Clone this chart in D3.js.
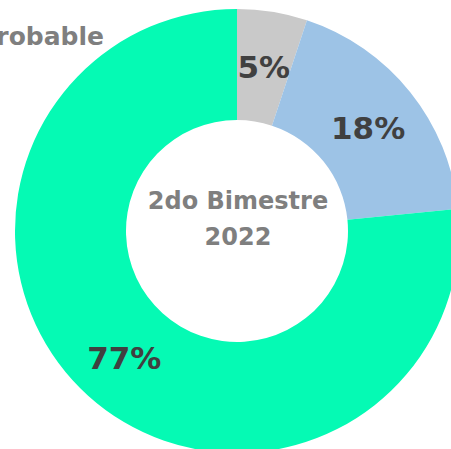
<!DOCTYPE html>
<html>
<head>
<meta charset="utf-8">
<script src="https://cdn.jsdelivr.net/npm/d3@7"></script>
<style>
  body { margin: 0; background: #fff; }
  text { font-family: "DejaVu Sans", sans-serif; font-weight: 700; }
</style>
</head>
<body>
<div id="chart"></div>
<script>
// data (share of each category, clockwise from the top)
const categories = ["Improbable", "Posible", "Probable"];
const values = [5.1, 18.3, 76.6];
const colors = ["#c9c9c9", "#9dc3e6", "#05fab4"];
const centerTitle = ["2do Bimestre", "2022"];

const width = 451, height = 449;
const cx = 237, cy = 231;
const outerR = 222, innerR = 111;

const svg = d3.select("#chart")
  .append("svg")
  .attr("width", width)
  .attr("height", height);

const g = svg.append("g")
  .attr("transform", "translate(" + cx + "," + cy + ")");

const pie = d3.pie().sort(null).value(d => d.value);
const arcs = pie(categories.map((c, i) => ({ name: c, value: values[i], color: colors[i] })));
const total = d3.sum(values);

const arc = d3.arc().innerRadius(innerR).outerRadius(outerR);
const labelArc = d3.arc().innerRadius(168).outerRadius(168);

g.selectAll("path")
  .data(arcs)
  .enter().append("path")
  .attr("d", arc)
  .attr("fill", d => d.data.color);

// percent labels inside the slices
g.selectAll(".pct")
  .data(arcs)
  .enter().append("text")
  .attr("class", "pct")
  .attr("transform", d => "translate(" + labelArc.centroid(d) + ")")
  .attr("text-anchor", "middle")
  .attr("dy", "0.42em")
  .attr("fill", "#404040")
  .style("font-size", "31px")
  .text(d => Math.round(d.data.value / total * 100) + "%");

// centre title
g.selectAll(".title")
  .data(centerTitle)
  .enter().append("text")
  .attr("class", "title")
  .attr("text-anchor", "middle")
  .attr("x", 1)
  .attr("y", (d, i) => -22 + i * 36)
  .attr("fill", "#7f7f7f")
  .style("font-size", "24px")
  .text(d => d);

// category label of the big slice (partly outside the frame)
svg.append("text")
  .attr("x", 104)
  .attr("y", 45)
  .attr("text-anchor", "end")
  .attr("fill", "#7f7f7f")
  .style("font-size", "25px")
  .text(categories[2]);
</script>
</body>
</html>
